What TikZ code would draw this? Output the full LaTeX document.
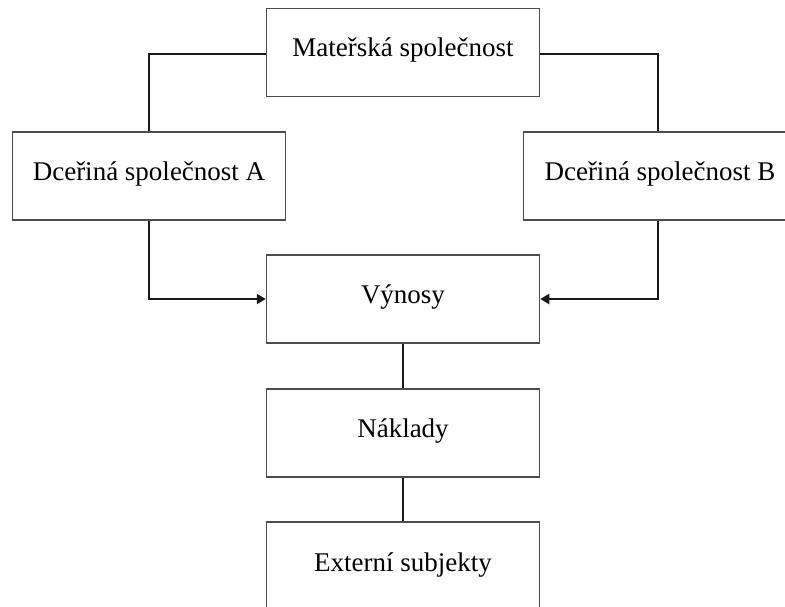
\documentclass[tikz,border=0pt]{standalone}
\usepackage{fontspec}
\setmainfont{Liberation Serif}
\usetikzlibrary{arrows.meta}
\begin{document}
\begin{tikzpicture}[x=1pt,y=-1pt,
  box/.style={draw=black!70,line width=1.5pt,fill=white,rectangle,
    minimum width=273pt,minimum height=88pt,inner sep=0pt,
    text height=18pt,text depth=9pt,
    font=\fontsize{27}{32}\selectfont},
  conn/.style={draw=black!90,line width=2.8pt},
  arr/.style={conn,-{Triangle[length=9pt,width=10pt]}}]
\useasboundingbox (0,0) rectangle (785,607);
\clip (0,0) rectangle (785,607);
\node[box] (mat) at (403,52.5) {Mateřská společnost};
\node[box] (a) at (149,176) {Dceřiná společnost A};
\node[box] (b) at (660,176) {Dceřiná společnost B};
\node[box] (vyn) at (403,299) {Výnosy};
\node[box] (nak) at (403,433) {Náklady};
\node[box,minimum height=110pt] (ext) at (403,577) {};
\node[font=\fontsize{27}{32}\selectfont,anchor=base] (exttext) at (403,571) {Externí subjekty};
\draw[conn] (mat.west |- 0,54) -| (a.north);
\draw[conn] (mat.east |- 0,54) -| (b.north -| 658,0);
\draw[arr] (a.south) |- (vyn.west |- 0,299);
\draw[arr] (b.south -| 658,0) |- (vyn.east |- 0,299);
\draw[conn] (vyn.south) -- (nak.north);
\draw[conn] (nak.south) -- (ext.north);
\end{tikzpicture}
\end{document}
